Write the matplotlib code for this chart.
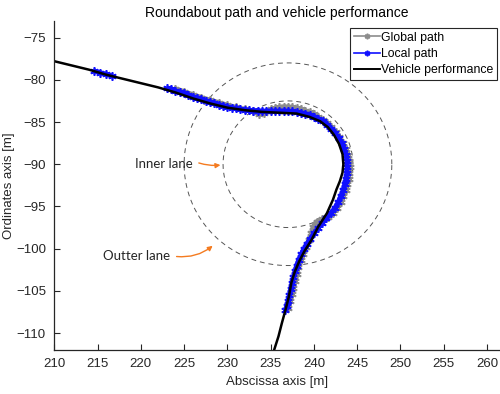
import numpy as np
from matplotlib import pyplot as plt
from matplotlib.lines import Line2D

# vehicle trajectory (black line)
veh_x = [210, 212, 214, 216, 218, 220, 222, 224, 226, 228, 230, 232, 234, 236, 238,
         239.5, 240.7, 241.6, 242.3, 242.9, 243.3, 243.4, 243.3, 243.0, 242.6, 242.2,
         241.5, 240.5, 239.7, 238.9, 238.3, 237.8, 237.4, 237.1, 236.7, 236.3, 235.9, 235.4]
veh_y = [-77.8, -78.3, -78.8, -79.4, -79.9, -80.4, -80.9, -81.5, -82.2, -82.8, -83.3,
         -83.6, -83.8, -83.9, -84.0, -84.4, -84.9, -85.6, -86.5, -87.6, -88.8, -90.0,
         -91.0, -92.0, -93.0, -94.2, -95.8, -97.4, -99.0, -100.3, -101.5, -102.7,
         -104.0, -105.7, -107.3, -108.8, -110.4, -112.0]

# local planner output (blue)
local_x = [214.6, 215.3, 216.0, 216.7, np.nan,
           223.0, 223.5, 224.0, 224.5, 225.0, 225.5, 226.0, 226.5, 227.0, 227.5, 228.0,
           228.5, 229.0, 229.5, 230.0, 230.5, 231.0, 231.5, 232.0, 232.5, 233.0, 233.5,
           234.0, 234.5, 235.0, 235.5, 236.0, 236.5, 237.0, 237.5, 238.0, 238.5, 239.0,
           239.5, 240.0, 240.5, 241.0, 241.5, 242.0, 242.45, 242.85, 243.2, 243.5, 243.7,
           243.82, 243.85, 243.8, 243.7, 243.55, 243.35, 243.1, 242.8, 242.4, 241.95, 241.45,
           240.95, 240.45, 240.0, 239.6, 239.2, 238.85, 238.55, 238.25, 238.0, 237.8, 237.6,
           237.45, 237.3, 237.15, 237.0, 236.85, 236.7]
local_y = [-78.95, -79.15, -79.35, -79.55, np.nan,
           -81.0, -81.1, -81.3, -81.45, -81.6, -81.8, -82.0, -82.15, -82.3, -82.5, -82.65,
           -82.8, -82.95, -83.05, -83.2, -83.3, -83.4, -83.5, -83.55, -83.6, -83.65, -83.65,
           -83.7, -83.7, -83.7, -83.7, -83.7, -83.7, -83.7, -83.75, -83.8, -83.9, -84.0,
           -84.15, -84.35, -84.6, -84.9, -85.3, -85.8, -86.3, -86.9, -87.5, -88.2, -88.9,
           -89.6, -90.3, -91.0, -91.7, -92.4, -93.1, -93.8, -94.5, -95.2, -95.8, -96.4,
           -97.0, -97.6, -98.2, -98.8, -99.4, -100.0, -100.6, -101.3, -102.0, -102.7, -103.4,
           -104.1, -104.8, -105.5, -106.2, -106.8, -107.3]

# global reference path (gray)
global_x = [224, 225, 226, 227, 228, 229, 230, 231, 232, 233, 233.6, 234.2, 235, 235.5,
            236, 236.5, 237, 237.5, 238, 238.5, 239, 239.5, 240, 240.5, 241, 241.5, 242,
            242.55, 242.95, 243.35, 243.7, 243.95, 244.1, 244.15, 244.1, 244.0, 243.85, 243.65,
            243.4, 243.1, 242.7, 242.2, 241.6, 240.9, 240.3, 239.9, 239.7, 239.4, 239.05,
            238.7, 238.45, 238.2, 238.0, 237.8, 237.6, 237.45, 237.25, 237.0]
global_y = [-81.05, -81.4, -81.75, -82.1, -82.4, -82.7, -83.0, -83.25, -83.5, -83.75, -84.0,
            -83.9, -83.5, -83.35, -83.25, -83.2, -83.2, -83.25, -83.35, -83.5, -83.65, -83.85,
            -84.1, -84.4, -84.75, -85.15, -85.65, -86.2, -86.8, -87.5, -88.2, -88.9, -89.6,
            -90.3, -91.0, -91.7, -92.4, -93.1, -93.8, -94.5, -95.2, -95.8, -96.2, -96.5,
            -96.8, -97.4, -98.2, -99.0, -99.8, -100.6, -101.4, -102.2, -103.0, -103.8,
            -104.6, -105.4, -106.2, -107.0]

# roundabout lanes
center = (237, -90)
r_outer = 12
r_inner = 7.5

txt = '#262626'
orange = '#f47b20'
star = (6, 2, 0)

fig = plt.figure(figsize=(5, 3.94), dpi=100)
ax = fig.add_axes([0.1086, 0.1117, 0.8914, 0.8358])

t = np.linspace(0, 2 * np.pi, 400)
for r in (r_outer, r_inner):
    ax.plot(center[0] + r * np.cos(t), center[1] + r * np.sin(t), color='#555555',
            lw=0.7, linestyle=(0, (5, 4)))

ax.plot(global_x, global_y, color='#8c8c8c', lw=3.5, marker=star, ms=6, mew=1.2,
        solid_capstyle='butt')
ax.plot(local_x, local_y, color='#1010ff', lw=3.5, marker=star, ms=6, mew=1.2,
        solid_capstyle='butt')
ax.plot(veh_x, veh_y, color='black', lw=1.8)

ax.set_xlim(210, 261.5)
ax.set_ylim(-112, -73)
ax.set_xticks(np.arange(210, 261, 5))
ax.set_yticks(np.arange(-110, -74, 5))
for s in ('top', 'right'):
    ax.spines[s].set_visible(False)
for s in ('left', 'bottom'):
    ax.spines[s].set_color(txt)
    ax.spines[s].set_linewidth(0.9)
ax.tick_params(direction='in', length=4, width=0.8, colors=txt, labelsize=9.5,
               pad=6)
for lab in ax.get_xticklabels() + ax.get_yticklabels():
    lab.set_family('Liberation Sans')

ax.set_title('Roundabout path and vehicle performance', fontsize=10, color='black',
             family='Liberation Sans', pad=3)
ax.set_xlabel('Abscissa axis [m]', fontsize=9.5, color=txt, family='Liberation Sans',
              labelpad=4)
ax.set_ylabel('Ordinates axis [m]', fontsize=9.5, color=txt, family='Liberation Sans')
ax.yaxis.set_label_coords(-0.088, 0.5)

# lane labels
ax.text(226.0, -90.0, 'Inner lane', ha='right', va='center', fontsize=9.5,
        color=txt, family='Lato')
ax.annotate('', xy=(229.2, -90.1), xytext=(226.7, -89.85),
            arrowprops=dict(arrowstyle='-|>', color=orange, lw=1,
                            mutation_scale=7, connectionstyle='arc3,rad=0.1',
                            shrinkA=0, shrinkB=0))
ax.text(223.4, -100.85, 'Outter lane', ha='right', va='center', fontsize=9.5,
        color=txt, family='Lato')
ax.annotate('', xy=(228.3, -99.66), xytext=(224.13, -100.93),
            arrowprops=dict(arrowstyle='-|>', color=orange, lw=1,
                            mutation_scale=7, connectionstyle='arc3,rad=0.2',
                            shrinkA=0, shrinkB=0))

handles = [
    Line2D([], [], color='#8c8c8c', lw=1.2, marker=star, ms=4, mew=1.2),
    Line2D([], [], color='#1010ff', lw=1.2, marker=star, ms=4, mew=1.2),
    Line2D([], [], color='black', lw=1.4),
]
leg = ax.legend(handles, ['Global path', 'Local path', 'Vehicle performance'],
                loc='upper right', bbox_to_anchor=(0.993, 0.978), fancybox=False,
                edgecolor=txt, framealpha=1, prop={'family': 'Liberation Sans',
                                                    'size': 8.8},
                handlelength=2.1, handletextpad=0.1, labelspacing=0.35,
                borderpad=0.3, borderaxespad=0)
leg.get_frame().set_linewidth(0.8)

fig.savefig('out.png', dpi=100)
